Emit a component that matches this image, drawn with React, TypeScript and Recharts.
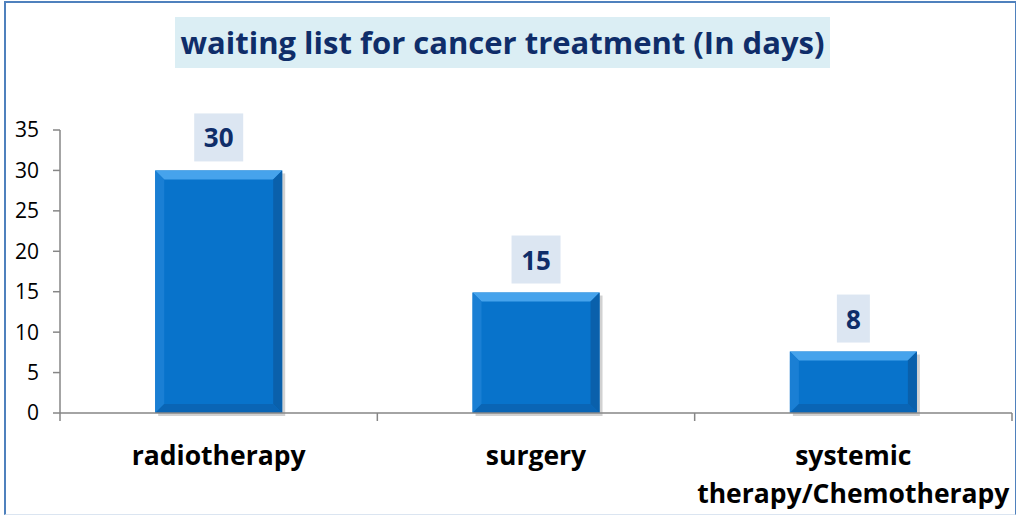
import React from 'react';
import { BarChart, Bar, XAxis, YAxis, LabelList } from 'recharts';

const categories = ['radiotherapy', 'surgery', 'systemic therapy/Chemotherapy'];
const tickLines = [['radiotherapy'], ['surgery'], ['systemic', 'therapy/Chemotherapy']];
const waitingDays = [30, 14.9, 7.6];
const yTicks = [0, 5, 10, 15, 20, 25, 30, 35];

const data = categories.map((name, i) => ({ name, days: waitingDays[i], idx: i }));

const FONT = '"Open Sans", "Noto Sans", sans-serif';
const NAVY = '#0f2d69';

const BevelBar = (props: any) => {
  const { x, y, width, height } = props;
  if (!height || height <= 0) return null;
  const b = Math.min(9, height / 2);
  return (
    <g>
      <rect x={x + 3} y={y + 3} width={width} height={height} fill="#000" opacity={0.18} />
      <rect x={x} y={y} width={width} height={height} fill="#0873cb" />
      <polygon points={`${x},${y} ${x + width},${y} ${x + width - b},${y + b} ${x + b},${y + b}`} fill="#46a3ec" />
      <polygon points={`${x},${y} ${x + b},${y + b} ${x + b},${y + height - b} ${x},${y + height}`} fill="#1a7fd4" />
      <polygon points={`${x + width},${y} ${x + width - b},${y + b} ${x + width - b},${y + height - b} ${x + width},${y + height}`} fill="#0a60ab" />
      <polygon points={`${x},${y + height} ${x + b},${y + height - b} ${x + width - b},${y + height - b} ${x + width},${y + height}`} fill="#0a65b5" />
    </g>
  );
};

const ValueLabel = (props: any) => {
  const { x, y, width, value } = props;
  const txt = String(Math.round(value));
  const w = txt.length * 16 + 17;
  const h = 48;
  const cx = x + width / 2;
  const top = y - 9 - h;
  return (
    <g>
      <rect x={cx - w / 2} y={top} width={w} height={h} fill="#dce6f2" />
      <text x={cx} y={top + 34} textAnchor="middle" fontFamily={FONT} fontWeight={700} fontSize={26} fill={NAVY}>
        {txt}
      </text>
    </g>
  );
};

const PLOT_LEFT = 60;
const PLOT_RIGHT = 1012;
const band = (PLOT_RIGHT - PLOT_LEFT) / categories.length;

const XTick = (props: any) => {
  const { x, y, index } = props;
  const lines = tickLines[index] || [];
  const left = x - band / 2;
  return (
    <g>
      <line x1={left} y1={y - 8} x2={left} y2={y} stroke="#868686" strokeWidth={1.5} />
      {index === categories.length - 1 && (
        <line x1={x + band / 2} y1={y - 8} x2={x + band / 2} y2={y} stroke="#868686" strokeWidth={1.5} />
      )}
      {lines.map((l, i) => (
        <text key={i} x={x} y={y + 44 + i * 38} textAnchor="middle" fontFamily={FONT} fontWeight={700} fontSize={26.5} fill="#000">
          {l}
        </text>
      ))}
    </g>
  );
};

export default function App() {
  return (
    <div style={{ position: 'absolute', left: 0, top: 0, width: 1017, height: 515, background: '#fff' }}>
      <div
        style={{
          position: 'absolute',
          left: 4,
          top: 1,
          width: 1009,
          height: 511,
          borderLeft: '2px solid #4f81bd',
          borderTop: '2px solid #4f81bd',
          borderRight: '1px solid #4f81bd',
          borderBottom: '1px solid #dbe5f1',
        }}
      />
      <div
        style={{
          position: 'absolute',
          left: 175,
          top: 17,
          width: 655,
          height: 51,
          background: '#dbeef4',
          color: NAVY,
          fontFamily: FONT,
          fontWeight: 700,
          fontSize: 31,
          lineHeight: '50px',
          textAlign: 'center',
          whiteSpace: 'nowrap',
        }}
      >
        waiting list for cancer treatment (In days)
      </div>
      <div style={{ position: 'absolute', left: 0, top: 0 }}>
        <BarChart width={1017} height={515} data={data} margin={{ top: 130, right: 5, left: 0, bottom: 0 }} barCategoryGap="30%">
          <XAxis
            dataKey="name"
            height={102}
            axisLine={{ stroke: '#868686', strokeWidth: 1.5 }}
            tickLine={false}
            tick={<XTick />}
            interval={0}
          />
          <YAxis
            width={60}
            domain={[0, 35]}
            ticks={yTicks}
            interval={0}
            axisLine={{ stroke: '#868686', strokeWidth: 1.5 }}
            tickLine={{ stroke: '#868686', strokeWidth: 1.5 }}
            tickSize={7}
            tickMargin={14}
            tick={{ fontFamily: FONT, fontSize: 21, fill: '#000' }}
          />
          <Bar dataKey="days" shape={<BevelBar />} isAnimationActive={false}>
            <LabelList dataKey="days" content={<ValueLabel />} />
          </Bar>
        </BarChart>
      </div>
    </div>
  );
}
